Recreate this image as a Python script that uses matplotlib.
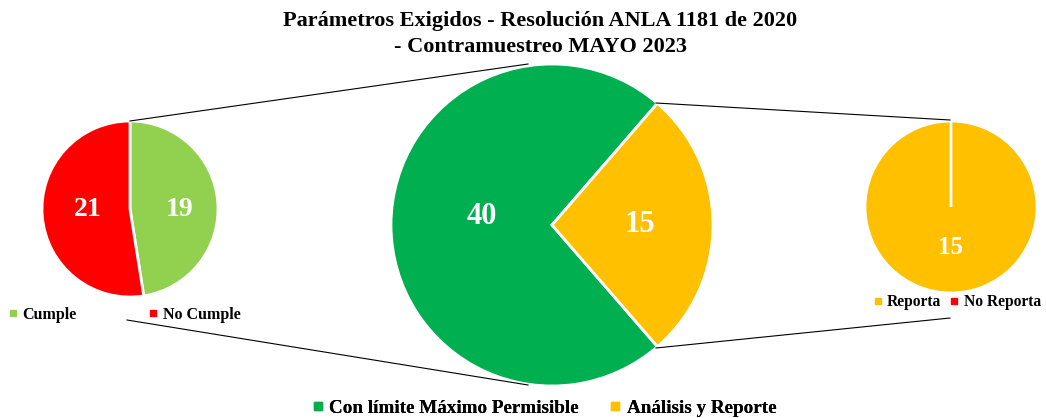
import matplotlib.pyplot as plt
from matplotlib.lines import Line2D

plt.rcParams['font.family'] = ['Liberation Serif', 'DejaVu Serif']
plt.rcParams['font.weight'] = 'bold'

title = "Parámetros Exigidos - Resolución ANLA 1181 de 2020\n- Contramuestreo MAYO 2023"

main_labels = ["Con límite Máximo Permisible", "Análisis y Reporte"]
main_values = [40, 15]
main_colors = ["#00B050", "#FFC000"]

left_labels = ["Cumple", "No Cumple"]
left_values = [19, 21]
left_colors = ["#92D050", "#FF0000"]

right_labels = ["Reporta", "No Reporta"]
right_values = [15, 0]
right_colors = ["#FFC000", "#FF0000"]

W, H = 1046, 418
fig = plt.figure(figsize=(W / 100, H / 100), dpi=100)
ax = fig.add_axes([0, 0, 1, 1])

wp = dict(edgecolor='white', linewidth=2)

# main pie
mc = (552, H - 225)
ax.pie(main_values, colors=main_colors, startangle=49.1, center=mc, radius=161,
       wedgeprops=wp, frame=True)
ax.text(482, H - 216, str(main_values[0]), color='white', fontsize=22, ha='center', va='center')
ax.text(640, H - 224, str(main_values[1]), color='white', fontsize=22, ha='center', va='center')

# left pie
lc = (130, H - 209)
ax.pie(left_values, colors=left_colors, startangle=90, counterclock=False, center=lc,
       radius=88, wedgeprops=wp, frame=True)
ax.text(180, H - 210, str(left_values[0]), color='white', fontsize=20, ha='center', va='center')
ax.text(88, H - 210, str(left_values[1]), color='white', fontsize=20, ha='center', va='center')

# right pie
rc = (951, H - 207)
ax.pie(right_values, colors=right_colors, startangle=90, counterclock=False, center=rc,
       radius=86, wedgeprops=wp, frame=True)
ax.text(951, H - 248, str(right_values[0]), color='white', fontsize=18, ha='center', va='center')

ax.set_xlim(0, W)
ax.set_ylim(0, H)
ax.set_aspect('equal')
ax.axis('off')

# connector lines
for (x0, y0), (x1, y1) in [((130, 121), (528, 64)), ((127, 320), (528, 385)),
                           ((656, 103), (950, 120)), ((656, 348), (950, 318))]:
    ax.plot([x0, x1], [H - y0, H - y1], color='black', linewidth=0.8)

ax.text(540, H - 34, title, ha='center', va='center', fontsize=16, linespacing=1.42)


def legend(labels, colors, x, y, fs, gap):
    handles = [Line2D([], [], marker='s', linestyle='none', color=c, markersize=fs * 0.42)
               for c in colors]
    lg = ax.legend(handles, labels, loc='center left', bbox_to_anchor=(x / W, 1 - y / H),
                   bbox_transform=fig.transFigure, ncol=len(labels), frameon=False,
                   fontsize=fs, handlelength=0.6, handletextpad=0.3, columnspacing=gap,
                   borderpad=0, borderaxespad=0)
    ax.add_artist(lg)


legend(left_labels, left_colors, 8, 315, 11.5, 4.5)
legend(right_labels, right_colors, 873, 302, 11.2, 0.55)
legend(main_labels, main_colors, 312, 408, 13.8, 1.6)

fig.savefig('out.png', dpi=100)
